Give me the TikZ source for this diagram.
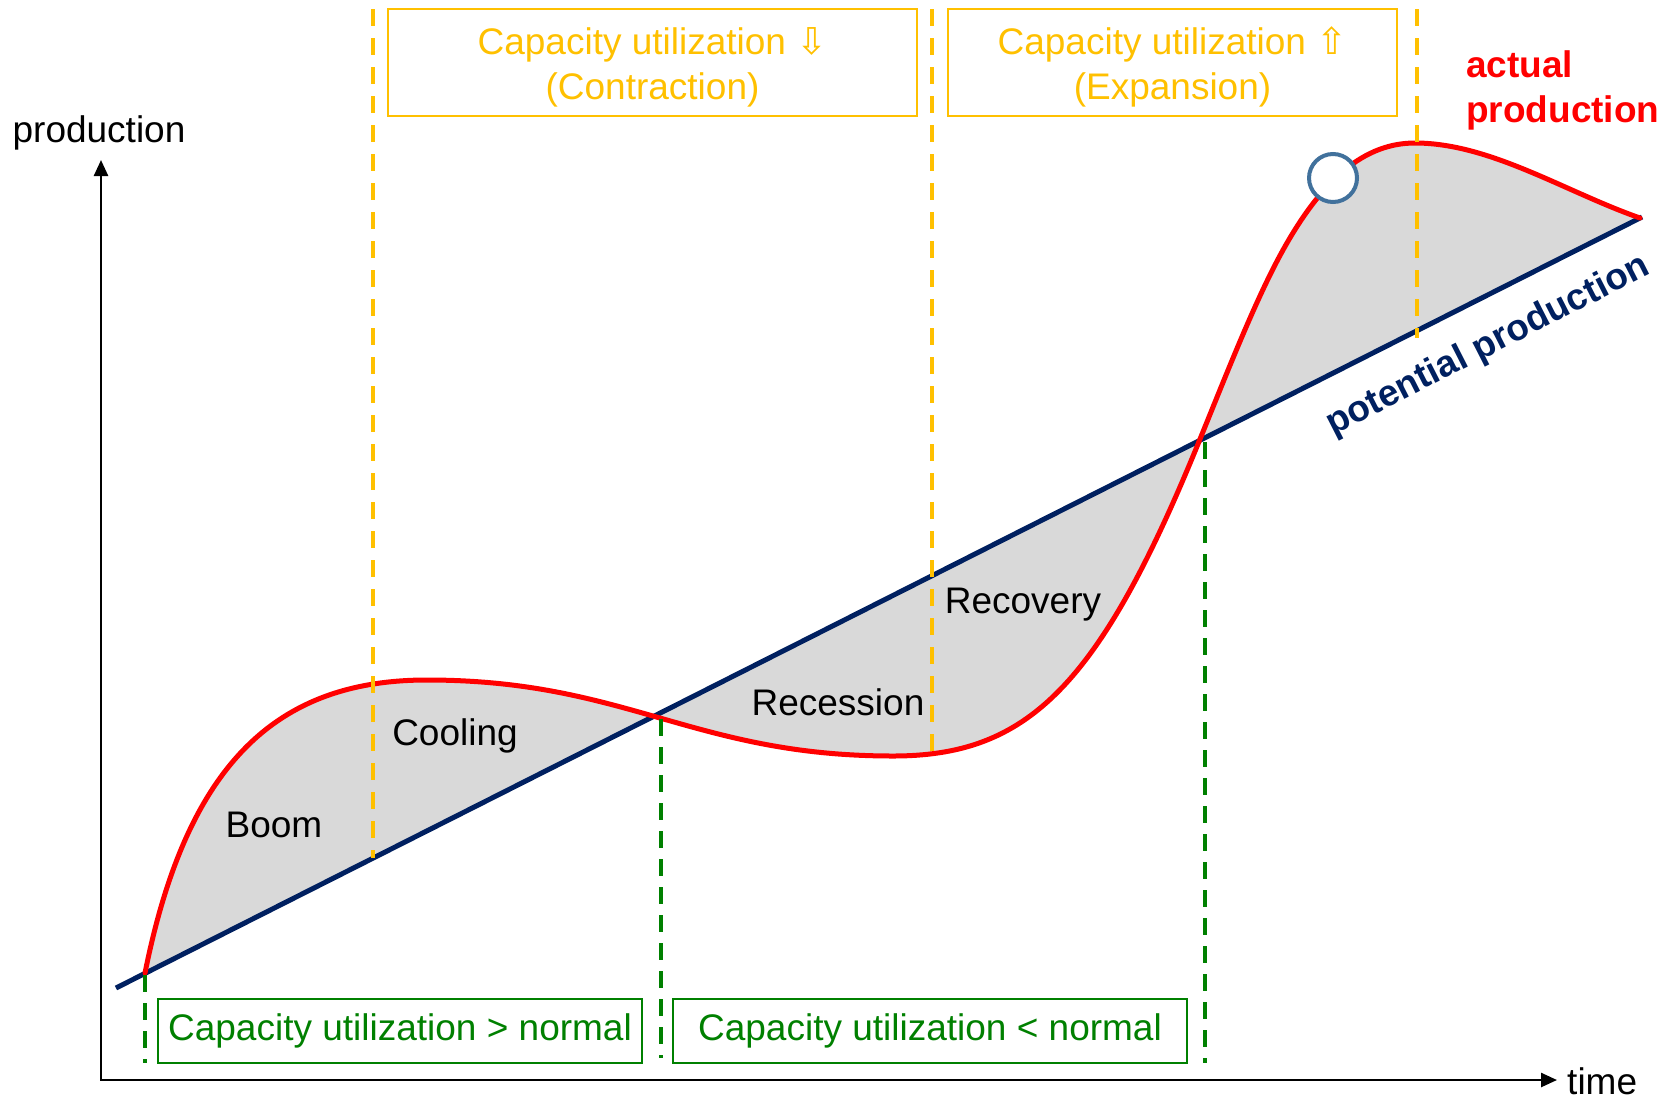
\documentclass[tikz,border=0pt]{standalone}
\usepackage{fontspec}
\setmainfont{Liberation Sans}
\newfontfamily\arrowfont{DejaVu Sans}
\usetikzlibrary{arrows.meta,calc}
\definecolor{gold}{HTML}{FFC000}
\definecolor{ogreen}{HTML}{008000}
\definecolor{navy}{HTML}{002060}
\definecolor{fillgray}{HTML}{D9D9D9}
\definecolor{ringblue}{HTML}{41719C}
\begin{document}
\begin{tikzpicture}[x=1pt,y=-1pt,
  lbl/.style={font=\fontsize{37}{45}\selectfont, inner sep=0pt},
  blbl/.style={font=\fontsize{37}{45}\selectfont\bfseries, inner sep=0pt},
  obox/.style={draw=gold, line width=2pt, inner sep=0pt, minimum height=107pt},
  gbox/.style={draw=ogreen, line width=1.8pt, inner sep=0pt, text=ogreen,
    font=\fontsize{37}{45}\selectfont, minimum height=64pt},
  odash/.style={gold, line width=3.5pt, dash pattern=on 17pt off 12pt},
  gdash/.style={ogreen, line width=3.5pt, dash pattern=on 17pt off 11pt},
  axisline/.style={line width=2.5pt},
  potline/.style={navy, line width=5pt},
  actline/.style={red, line width=5pt, line join=round, line cap=round},
]
\useasboundingbox (0,0) rectangle (1675,1095);

% named points of the actual-production curve
\coordinate (A0) at (145,973);
\coordinate (A1) at (427,680);
\coordinate (A2) at (893,756);
\coordinate (A3) at (1198,444);
\coordinate (A4) at (1283,250);
\coordinate (A5) at (1415,143);
\coordinate (A6) at (1640,218);

% shaded area between actual and potential production
\fill[fillgray] (A0) .. controls (187,763) and (277,680) .. (A1)
  .. controls (627,680) and (693,756) .. (A2)
  .. controls (1026,756) and (1098,689) .. (A3)
  .. controls (1226,375.4) and (1255,300.4) .. (A4)
  .. controls (1323,178) and (1365,143) .. (A5)
  .. controls (1490,143) and (1565,191.75) .. (A6) -- cycle;

% axes
\coordinate (O) at (101,1080);
\coordinate (ytop) at (101,160);
\coordinate (xend) at (1557,1080);
\draw[axisline, {Triangle[length=16pt,width=14pt]}-{Triangle[length=16pt,width=14pt]}]
  (ytop) -- (O) -- (xend);
\node[lbl] (ylab) at (99,133) {production};
\node[lbl, anchor=west] (xlab) at (1567,1081) {time};

% potential production
\coordinate (P0) at (116,988);
\coordinate (P1) at (1642,217);
\draw[potline] (P0) -- (P1);

% actual production
\draw[actline] (A0) .. controls (187,763) and (277,680) .. (A1)
  .. controls (627,680) and (693,756) .. (A2)
  .. controls (1026,756) and (1098,689) .. (A3)
  .. controls (1226,375.4) and (1255,300.4) .. (A4)
  .. controls (1323,178) and (1365,143) .. (A5)
  .. controls (1490,143) and (1565,191.75) .. (A6);

% orange dashed lines
\coordinate (oa1) at (373,9);   \coordinate (ob1) at (373,858);
\coordinate (oa2) at (932,9);   \coordinate (ob2) at (932,753);
\coordinate (oa3) at (1417,9);  \coordinate (ob3) at (1417,338);
\draw[odash] (oa1) -- (ob1);
\draw[odash] (oa2) -- (ob2);
\draw[odash] (oa3) -- (ob3);

% green dashed lines
\coordinate (ga1) at (145,975);  \coordinate (gb1) at (145,1063);
\coordinate (ga2) at (661,719);  \coordinate (gb2) at (661,1058);
\coordinate (ga3) at (1205,442); \coordinate (gb3) at (1205,1063);
\draw[gdash] (ga1) -- (gb1);
\draw[gdash] (ga2) -- (gb2);
\draw[gdash] (ga3) -- (gb3);

% marker circle
\node[circle, draw=ringblue, fill=white, line width=4pt, minimum size=48pt,
  inner sep=0pt] (ring) at (1333,178) {};

% top boxes
\node[obox, minimum width=529pt] (cbox) at (652.5,62.5) {};
\node[lbl, text=gold, align=center] (ctext) at (652.5,67)
  {Capacity utilization {\arrowfont ⇩}\\(Contraction)};
\node[obox, minimum width=449pt] (ebox) at (1172.5,62.5) {};
\node[lbl, text=gold, align=center] (etext) at (1172.5,67)
  {Capacity utilization {\arrowfont ⇧}\\(Expansion)};

% bottom boxes
\node[gbox, minimum width=484pt] (gbox1) at (400,1031) {Capacity utilization > normal};
\node[gbox, minimum width=514pt] (gbox2) at (930,1031) {Capacity utilization < normal};

% phase labels
\node[lbl] (boom) at (274,825) {Boom};
\node[lbl] (cool) at (455,736) {Cooling};
\node[lbl] (rec) at (838,702) {Recession};
\node[lbl] (recov) at (1023,605) {Recovery};

% curve labels
\node[blbl, text=red, align=left, anchor=west] (actlab) at (1466,90) {actual\\production};
\node[blbl, text=navy, rotate=27] (potlab) at (1488,346) {potential production};
\end{tikzpicture}
\end{document}
